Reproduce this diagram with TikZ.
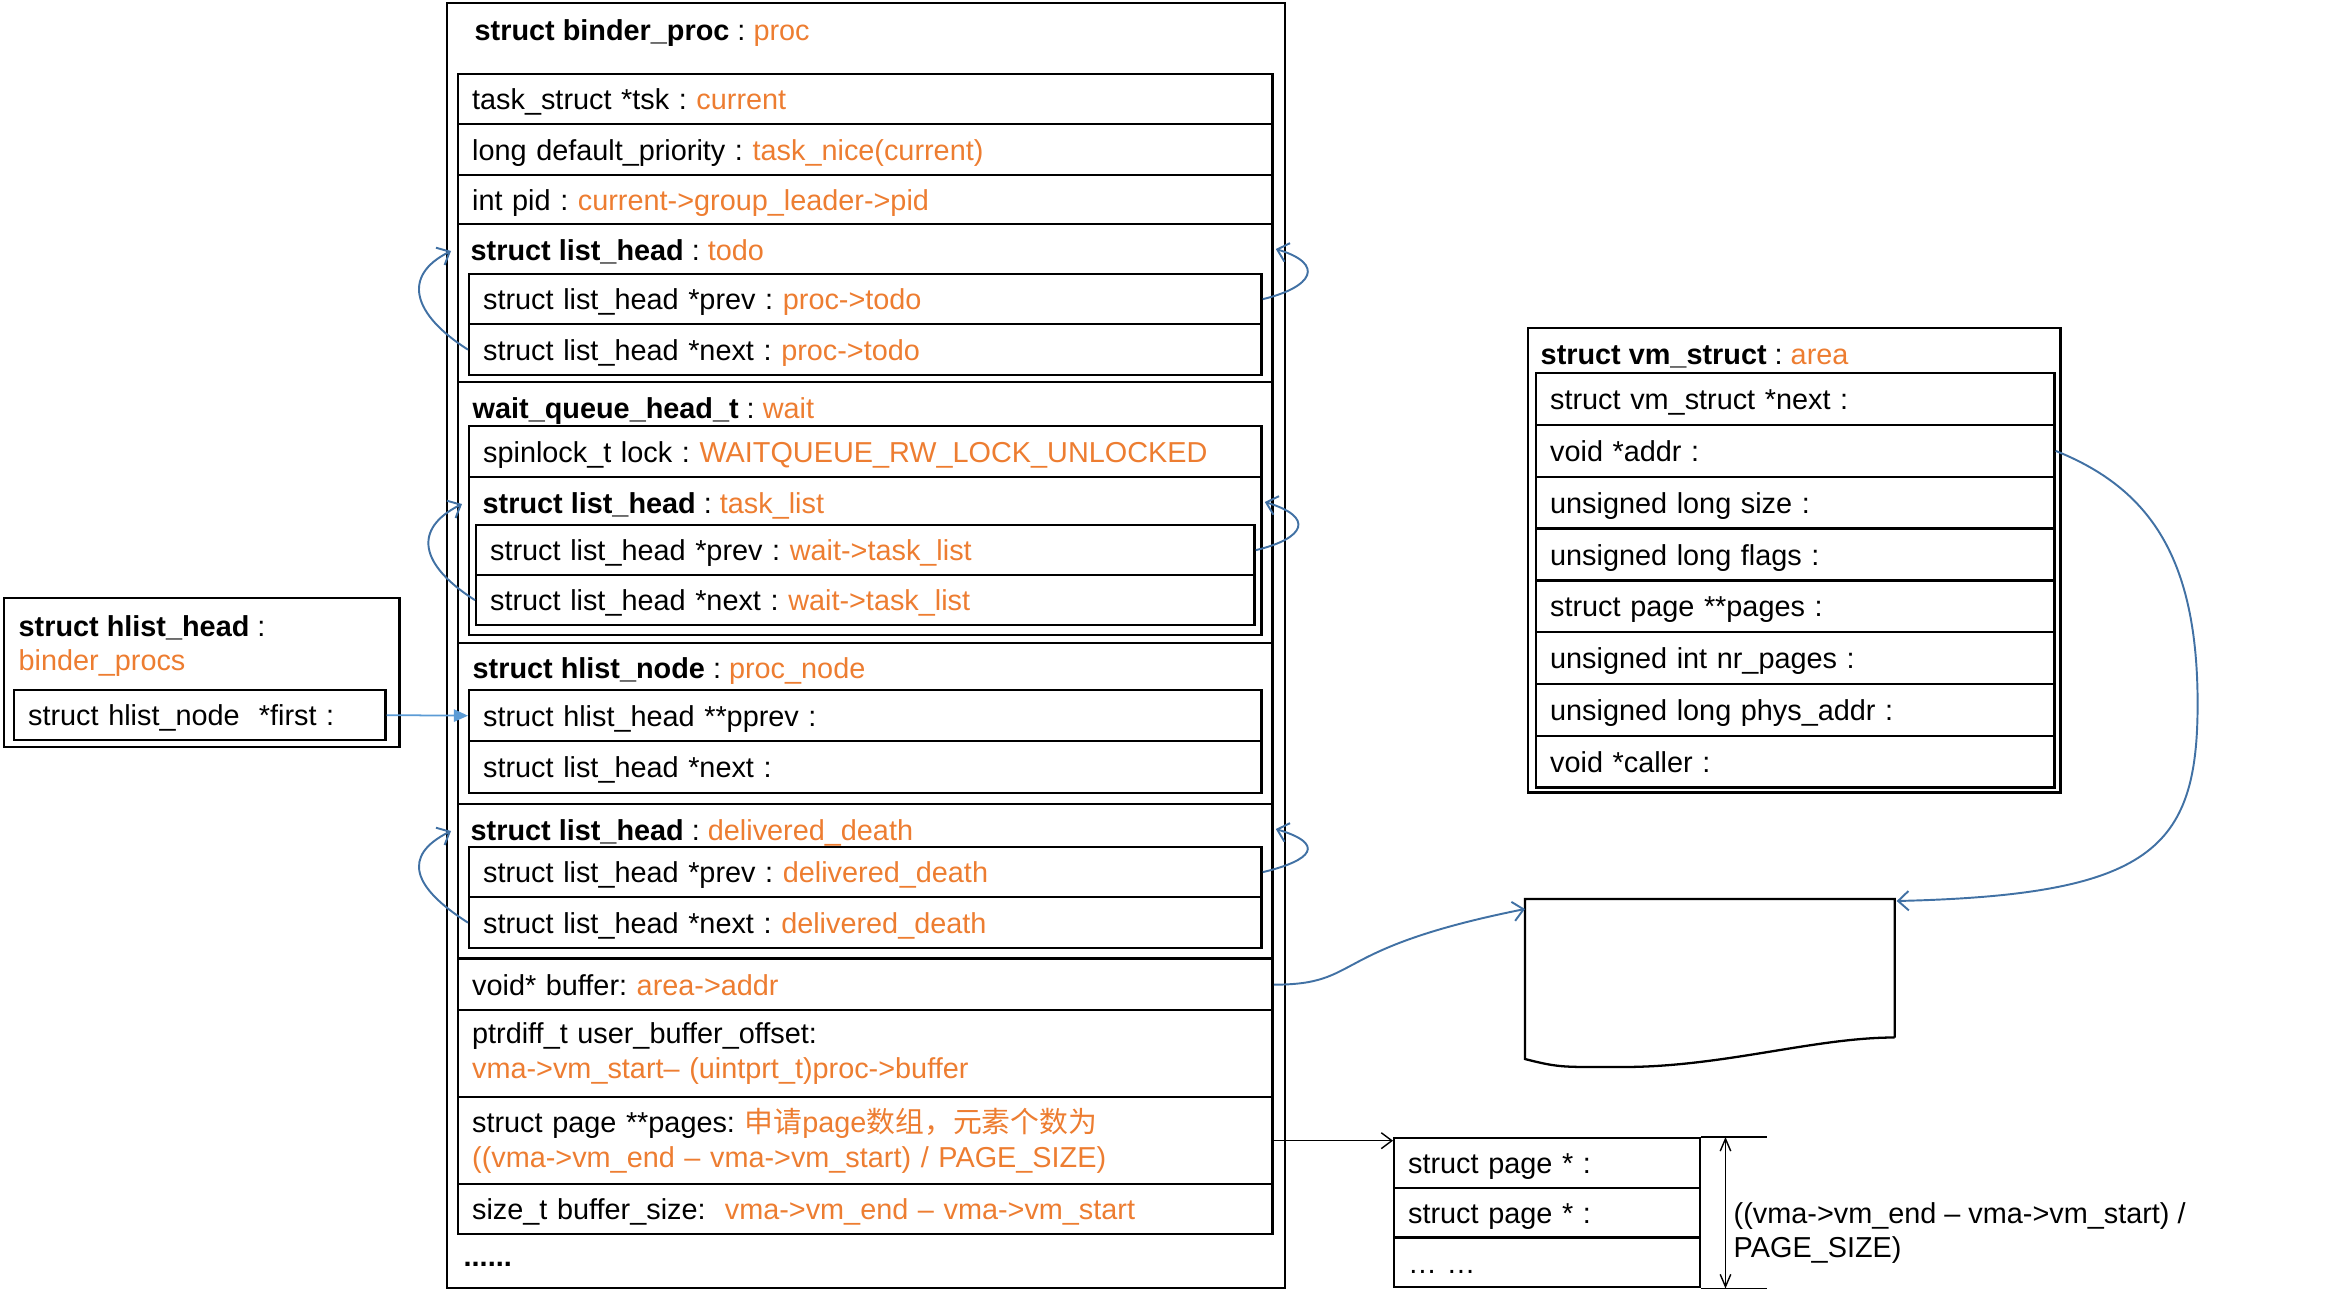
\documentclass[tikz,border=0pt]{standalone}
\usepackage{fontspec}
\setmainfont{Liberation Sans}
\newfontfamily\cjk{Noto Sans CJK SC}
\usetikzlibrary{arrows.meta}
\definecolor{val}{RGB}{237,125,49}
\definecolor{ptr}{RGB}{65,113,164}
\definecolor{lptr}{RGB}{91,155,213}
\newcommand{\val}[1]{\textcolor{val}{#1}}
\newcommand{\dfont}{\fontsize{8.2pt}{9.8pt}\selectfont}
\frenchspacing
\tikzset{
  fld/.style={draw, line width=.65pt, anchor=north west, inner xsep=.14cm, inner ysep=0pt, align=left, font=\dfont},
  mid/.style={text height=7.6pt, text depth=1.5pt},
  one/.style={fld, mid, text width=7.86cm},
  two/.style={fld, mid, text width=7.64cm},
  three/.style={fld, mid, text width=7.50cm},
  grp/.style={draw, line width=.65pt, anchor=north west, inner sep=0pt},
  ttl/.style={anchor=west, inner sep=0pt, font=\dfont},
  lnk/.style={ptr, line width=.55pt, -{Straight Barb[length=3pt,width=5.5pt]}},
}
\begin{document}
\begin{tikzpicture}[x=0.01cm, y=-0.01cm]
\useasboundingbox (0,0) rectangle (2325,1297);

\node[grp, minimum width=8.37cm, minimum height=12.84cm] (proc) at (446,2) {};
\node[ttl, mid] (proct) at (474,30) {\textbf{struct binder\_proc} : \val{proc}};
\node[one, minimum height=.50cm] (tsk) at (457,73) {task\_struct *tsk : \val{current}};
\node[one, minimum height=.51cm] (prio) at (457,123) {long default\_priority\ : \val{task\_nice(current)}};
\node[one, minimum height=.49cm] (pid) at (457,174) {int pid : \val{current->group\_leader->pid}};

\foreach \n/\y/\o/\h/\ti/\v in {todo/223/50/1.58/todo/proc->todo, dd/803/43/1.54/delivered\_death/delivered\_death} {
  \node[grp, minimum width=8.14cm, minimum height=\h cm] (\n) at (457,\y) {};
  \node[ttl, mid] (\n t) at (470,\y+27) {\textbf{struct list\_head} : \val{\ti}};
  \node[two, minimum height=.50cm] (\n-p) at (468,\y+\o) {struct list\_head *prev : \val{\v}};
  \node[two, minimum height=.51cm] (\n-n) at (468,\y+\o+50) {struct list\_head *next : \val{\v}};
}

\node[grp, minimum width=8.14cm, minimum height=2.61cm] (wait) at (457,381) {};
\node[ttl, mid] (waitt) at (472,408) {\textbf{wait\_queue\_head\_t} : \val{wait}};
\node[two, minimum height=.51cm] (lock) at (468,425) {spinlock\_t lock : \val{WAITQUEUE\_RW\_LOCK\_UNLOCKED}};
\node[grp, minimum width=7.92cm, minimum height=1.58cm] (tl) at (468,476) {};
\node[ttl, mid] (tlt) at (482,503) {\textbf{struct list\_head} : \val{task\_list}};
\node[three, minimum height=.50cm] (tl-p) at (475,524) {struct list\_head *prev : \val{wait->task\_list}};
\node[three, minimum height=.50cm] (tl-n) at (475,574) {struct list\_head *next : \val{wait->task\_list}};

\node[grp, minimum width=8.14cm, minimum height=1.61cm] (hn) at (457,642) {};
\node[ttl, mid] (hnt) at (472,668) {\textbf{struct hlist\_node} : \val{proc\_node}};
\node[two, minimum height=.51cm] (hn-p) at (468,689) {struct hlist\_head **pprev :};
\node[two, minimum height=.52cm] (hn-n) at (468,740) {struct list\_head *next :};

\node[one, minimum height=.51cm] (buffer) at (457,958) {void* buffer: \val{area->addr}};
\node[fld, text width=7.86cm, minimum height=.87cm] (offset) at (457,1009) {ptrdiff\_t user\_buffer\_offset:\\\val{vma->vm\_start– (uintprt\_t)proc->buffer}};
\node[fld, text width=7.86cm, minimum height=.87cm] (pages) at (457,1096) {struct page **pages: \val{{\cjk 申请}page{\cjk 数组，元素个数为}}\\\val{((vma->vm\_end – vma->vm\_start) / PAGE\_SIZE)}};
\node[one, minimum height=.50cm] (bsize) at (457,1183) {size\_t buffer\_size:\ \ \val{vma->vm\_end – vma->vm\_start}};
\node[ttl] (more) at (463,1264) {\textbf{......}};

\node[grp, minimum width=3.95cm, minimum height=1.49cm] (hh) at (3,597) {};
\node[ttl, align=left] (hht) at (18,646) {\textbf{struct hlist\_head} :\\\val{binder\_procs}};
\node[fld, mid, text width=3.43cm, minimum height=.50cm] (first) at (13,689) {struct hlist\_node\ \ *first :};
\draw[lptr, line width=.5pt, -{Triangle[length=4pt,width=3.5pt]}] (first.east) -- (hn-p.west);

\node[grp, minimum width=5.32cm, minimum height=4.64cm] (vm) at (1527,327) {};
\node[ttl, mid] (vmt) at (1540,354) {\textbf{struct vm\_struct} : \val{area}};
\foreach \ti [count=\i from 0] in {struct vm\_struct *next :, void *addr :, unsigned long size :, unsigned long flags :, struct page **pages :, unsigned int nr\_pages :, unsigned long phys\_addr :, void *caller :}
  \node[fld, mid, text width=4.90cm, minimum height=.518cm] (vm\i) at (1535,{372+51.8*\i}) {\ti};

\node[inner sep=0pt, anchor=north west, minimum width=3.68cm, minimum height=1.37cm] (mem) at (1525,899) {};
\draw[line width=.65pt] (mem.south east) -- (mem.north east) -- (mem.north west) -- ++(0,160) .. controls +(35,9) and +(-60,0) .. ++(98,8) .. controls +(100,0) and +(-80,0) .. (mem.south east);

\foreach \ti [count=\i from 0] in {struct page * :, struct page * :, … …}
  \node[fld, mid, text width=2.78cm, minimum height=.497cm] (pg\i) at (1393,{1137+49.7*\i}) {\ti};

\foreach \g in {todo,tl,dd} {
  \draw[lnk] (\g-n.west) .. controls +(-55,-35) and +(-50,25) .. ([shift={(-6,28)}]\g.north west);
  \draw[lnk] (\g-p.east) .. controls +(50,-12) and +(50,15) .. ([shift={(2,26)}]\g.north east);
}
\draw[lnk] (buffer.east) .. controls +(90,0) and +(-200,40) .. ([shift={(0,10)}]mem.north west);
\draw[lnk] (vm1.east) .. controls +(95,38) and +(0,-145) .. ++(142,253) .. controls +(0,145) and +(255,-6) .. ([shift={(2,2)}]mem.north east);
\draw[line width=.4pt, -{Straight Barb[length=3pt,width=4.5pt]}] (pages.east) -- (pages.east -| pg0.west);

\coordinate (dt) at ([shift={(24,0)}]pg0.north east);
\coordinate (db) at ([shift={(24,0)}]pg2.south east);
\draw[line width=.4pt] (pg0.north east) -- ++(66,0) (pg2.south east) -- ++(66,0);
\draw[line width=.4pt, {Straight Barb[length=3.5pt,width=3pt]}-{Straight Barb[length=3.5pt,width=3pt]}] (dt) -- (db);
\node[ttl, align=left] (dlab) at (1733,1233) {((vma->vm\_end – vma->vm\_start) /\\PAGE\_SIZE)};
\end{tikzpicture}
\end{document}
